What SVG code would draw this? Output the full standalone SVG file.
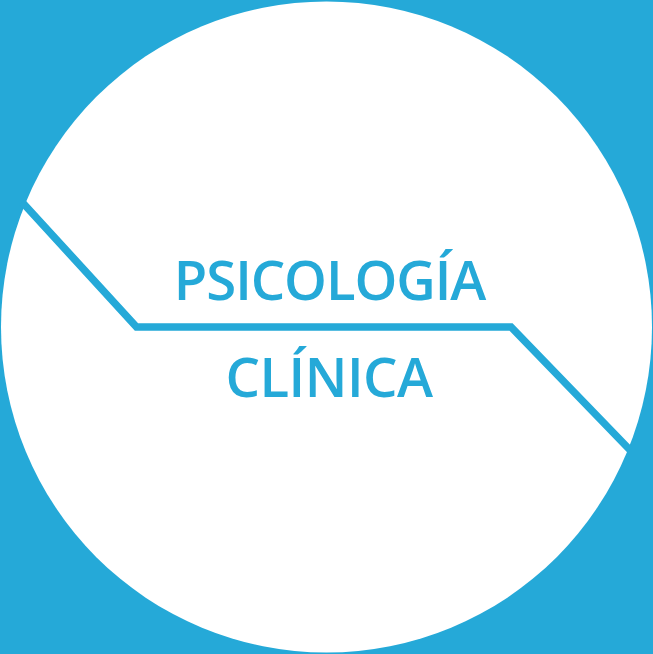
<svg xmlns="http://www.w3.org/2000/svg" width="653" height="654" viewBox="0 0 653 654">
<style>
.bg{fill:#25a9d8}
.disc{fill:#fff}
.line{fill:none;stroke:#25a9d8;stroke-width:7.500;stroke-linejoin:miter}
.t{font-family:"Open Sans","Noto Sans",sans-serif;font-size:54.500px;font-weight:600;fill:#25a9d8;text-anchor:middle}
</style>
<rect class="bg" width="653" height="654"/>
<circle class="disc" cx="326.500" cy="327" r="325.500"/>
<g id="connectors"><path class="line" d="M22 202L136.500 327H511L630 450"/></g>
<g id="label"><text class="t" x="329.500" y="300" letter-spacing="-1.100">PSICOLOGÍA</text><text class="t" x="329" y="397" letter-spacing="-0.500">CLÍNICA</text></g>
</svg>
